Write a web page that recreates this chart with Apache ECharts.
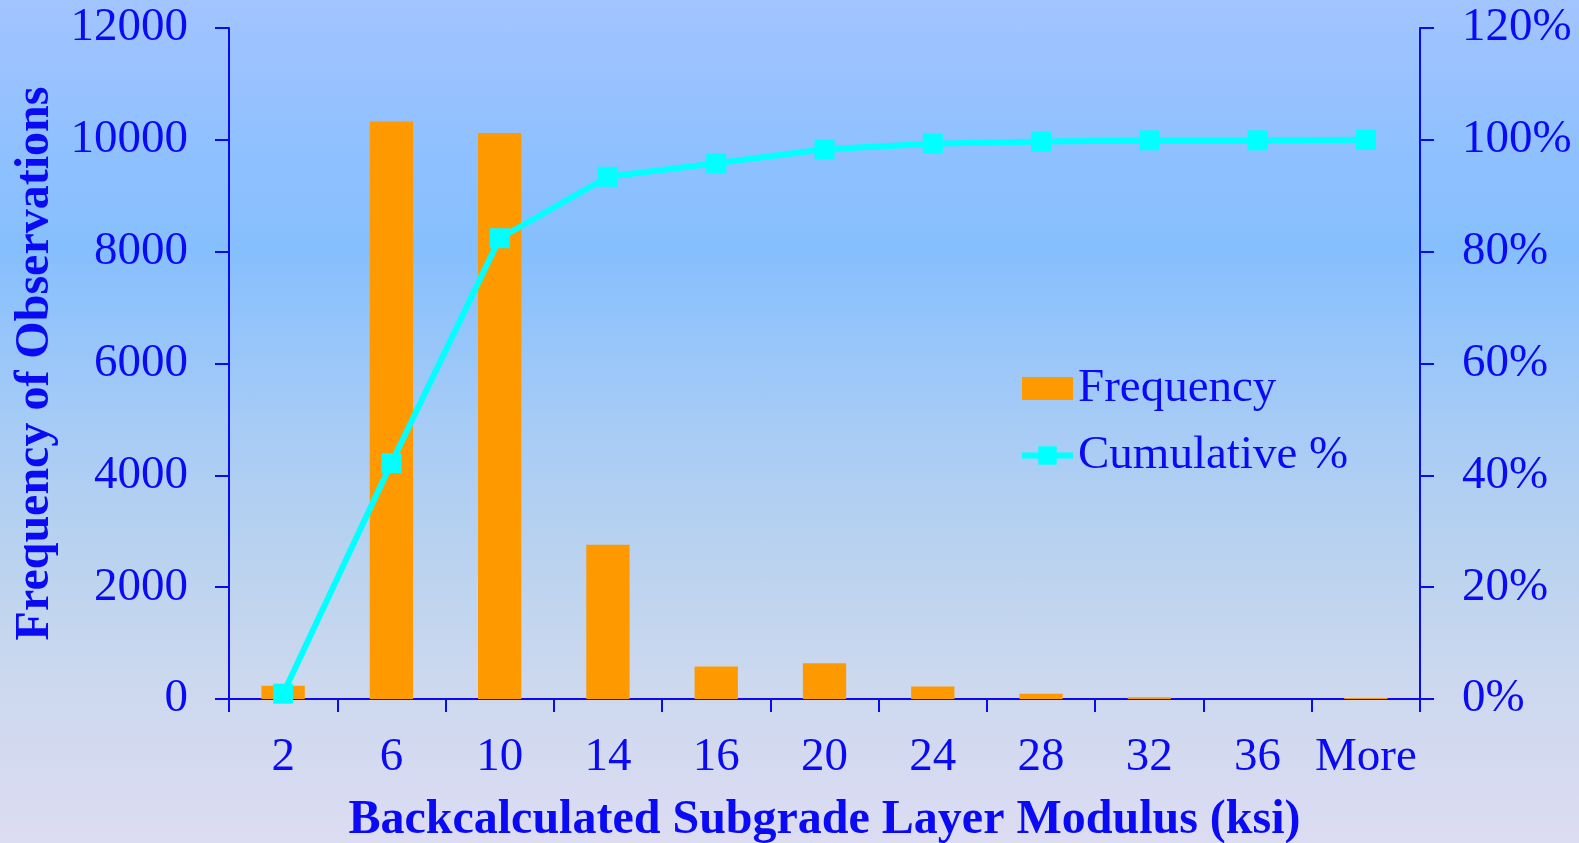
<!DOCTYPE html>
<html>
<head>
<meta charset="utf-8">
<style>
  html, body { margin: 0; padding: 0; }
  #chart {
    width: 1579px; height: 843px;
    background: linear-gradient(to bottom, #a2c4ff 0%, #8dc0ff 20%, #86bffd 30%, #a6cbf6 50%, #b8d2ef 65%, #cbd8ee 80%, #dcdcf2 100%);
  }
</style>
<script src="https://cdn.jsdelivr.net/npm/echarts@6/dist/echarts.min.js"></script>
</head>
<body>
<div id="chart"></div>
<script>
// Modulus bins (ksi)
const bins = ['2', '6', '10', '14', '16', '20', '24', '28', '32', '36', 'More'];
// Number of observations per bin
const frequency = [235, 10330, 10120, 2760, 580, 640, 225, 95, 30, 0, 20];
// Cumulative share of observations (%)
const cumulative = [0.95, 42.2, 82.4, 93.4, 95.8, 98.3, 99.3, 99.7, 99.9, 99.9, 100];
// Tick settings
const freqTicks = { min: 0, max: 12000, interval: 2000 };
const pctTicks = { min: 0, max: 120, interval: 20 };

const blue = '#0a0af5';
const font = '"Liberation Serif", "Times New Roman", serif';

const chart = echarts.init(document.getElementById('chart'), null, { renderer: 'canvas' });
chart.setOption({
  backgroundColor: 'transparent',
  textStyle: { fontFamily: font },
  grid: { left: 229, right: 159, top: 28, bottom: 144, containLabel: false, outerBoundsMode: 'none' },
  legend: {
    orient: 'vertical',
    left: 1014,
    top: 360,
    itemWidth: 51,
    itemHeight: 23,
    itemGap: 20,
    textStyle: { color: blue, fontSize: 47, fontFamily: font },
    data: [
      { name: 'Frequency', icon: 'rect' },
      { name: 'Cumulative %', lineStyle: { width: 6, color: '#00ffff' } }
    ]
  },
  xAxis: {
    type: 'category',
    data: bins,
    name: 'Backcalculated Subgrade Layer Modulus (ksi)',
    nameLocation: 'middle',
    nameGap: 98,
    nameTextStyle: { color: blue, fontSize: 48, fontWeight: 'bold', fontFamily: font },
    axisLine: { lineStyle: { color: blue, width: 2 } },
    axisTick: { show: true, length: 13, inside: false, alignWithLabel: false, lineStyle: { color: blue, width: 2 } },
    axisLabel: { color: blue, fontSize: 47, margin: 35, fontFamily: font, interval: 0 },
    splitLine: { show: false }
  },
  yAxis: [
    {
      type: 'value',
      min: freqTicks.min, max: freqTicks.max, interval: freqTicks.interval,
      name: 'Frequency of Observations',
      nameLocation: 'middle',
      nameGap: 166,
      nameTextStyle: { color: blue, fontSize: 48, fontWeight: 'bold', fontFamily: font },
      axisLine: { show: true, lineStyle: { color: blue, width: 2 } },
      axisTick: { show: true, length: 14, lineStyle: { color: blue, width: 2 } },
      axisLabel: { color: blue, fontSize: 47, margin: 41, fontFamily: font, formatter: (v) => String(v) },
      splitLine: { show: false }
    },
    {
      type: 'value',
      position: 'right',
      min: pctTicks.min, max: pctTicks.max, interval: pctTicks.interval,
      axisLine: { show: true, lineStyle: { color: blue, width: 2 } },
      axisTick: { show: true, length: 14, lineStyle: { color: blue, width: 2 } },
      axisLabel: { color: blue, fontSize: 47, margin: 42, fontFamily: font, formatter: '{value}%' },
      splitLine: { show: false }
    }
  ],
  series: [
    {
      name: 'Frequency',
      type: 'bar',
      data: frequency,
      barWidth: '40%',
      itemStyle: { color: '#ff9900' },
      yAxisIndex: 0,
      z: 2
    },
    {
      name: 'Cumulative %',
      type: 'line',
      data: cumulative,
      yAxisIndex: 1,
      symbol: 'rect',
      symbolSize: 20,
      showAllSymbol: true,
      lineStyle: { color: '#00ffff', width: 6 },
      itemStyle: { color: '#00ffff' },
      z: 3
    }
  ],
  animation: false
});
</script>
</body>
</html>
